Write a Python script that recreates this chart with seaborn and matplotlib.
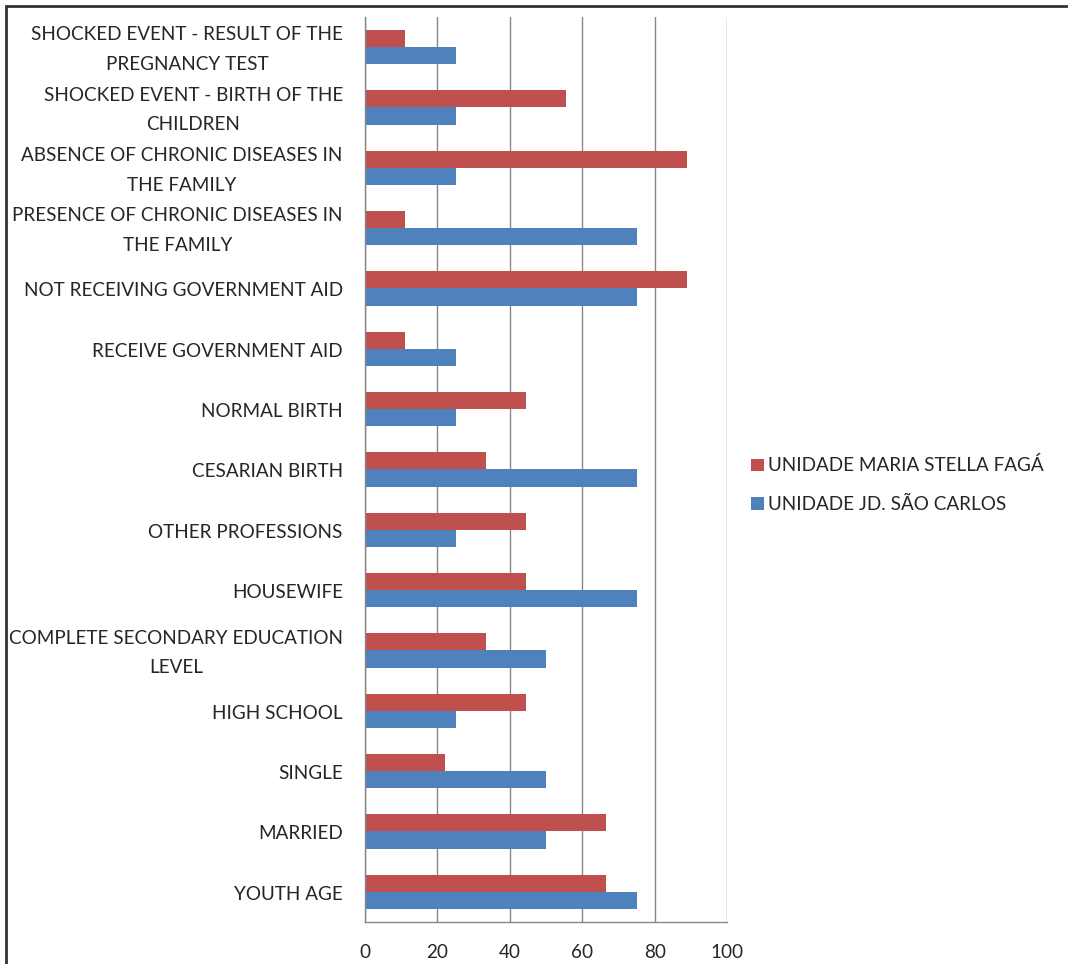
import matplotlib as mpl
import matplotlib.pyplot as plt
import matplotlib.transforms as mtransforms
from matplotlib.patches import Rectangle
import seaborn as sns
import pandas as pd
import numpy as np

categories = [
    "SHOCKED EVENT - RESULT OF THE\nPREGNANCY TEST",
    "SHOCKED EVENT - BIRTH OF THE\nCHILDREN",
    "ABSENCE OF CHRONIC DISEASES IN\nTHE FAMILY",
    "PRESENCE OF CHRONIC DISEASES IN\nTHE FAMILY",
    "NOT RECEIVING GOVERNMENT AID",
    "RECEIVE GOVERNMENT AID",
    "NORMAL BIRTH",
    "CESARIAN BIRTH",
    "OTHER PROFESSIONS",
    "HOUSEWIFE",
    "COMPLETE SECONDARY EDUCATION\nLEVEL",
    "HIGH SCHOOL",
    "SINGLE",
    "MARRIED",
    "YOUTH AGE",
]
maria_stella = [11.1, 55.6, 88.9, 11.1, 88.9, 11.1, 44.4, 33.3, 44.4, 44.4, 33.3, 44.4, 22.2, 66.7, 66.7]
sao_carlos = [25, 25, 25, 75, 75, 25, 25, 75, 25, 75, 50, 25, 50, 50, 75]
series_names = ["UNIDADE MARIA STELLA FAGÁ", "UNIDADE JD. SÃO CARLOS"]
colors = ["#C0504D", "#4F81BD"]

df = pd.DataFrame({
    "Category": categories * 2,
    "Value": maria_stella + sao_carlos,
    "Unit": [series_names[0]] * len(categories) + [series_names[1]] * len(categories),
})

sns.set_style("white")
plt.rcParams['font.family'] = ['Lato', 'DejaVu Sans']
fs = 13.6

fig = plt.figure(figsize=(10.68, 9.64), dpi=100)
ax = fig.add_axes([0.3418, 0.0436, 0.6807 - 0.3418, 0.9824 - 0.0436])

sns.barplot(data=df, y="Category", x="Value", hue="Unit", hue_order=series_names,
            palette=colors, orient="h", width=0.565, saturation=1, ax=ax,
            order=categories, linewidth=0)

ax.set_xlim(0, 100)
ax.set_ylim(len(categories) - 0.5, -0.5)
ax.set_xticks(np.arange(0, 101, 20))
ax.xaxis.grid(True, color="#868686", linewidth=1)
ax.set_axisbelow(True)
ax.set_xlabel("")
ax.set_ylabel("")
ax.spines["top"].set_visible(False)
ax.spines["right"].set_visible(False)
for s in ["left", "bottom"]:
    ax.spines[s].set_color("#868686")
    ax.spines[s].set_linewidth(1)

ax.tick_params(axis="x", which="major", length=5, color="#868686", labelsize=fs, pad=11)
ax.tick_params(axis="y", which="major", length=0, labelsize=fs, pad=16)
ax.set_yticks(np.arange(-0.5, len(categories), 1), minor=True)
ax.tick_params(axis="y", which="minor", length=6, color="#868686", direction="out")

# labels sit a touch below the category centre in the original
shift = mtransforms.ScaledTranslation(0, -2.5 / 100, fig.dpi_scale_trans)
for lab in ax.get_yticklabels():
    lab.set_multialignment("center")
    lab.set_verticalalignment("center")
    lab.set_linespacing(1.9)
    lab.set_transform(lab.get_transform() + shift)

ax.legend(loc="center left", bbox_to_anchor=(1.02, 0.483), frameon=False,
          fontsize=fs, handlelength=0.65, handleheight=0.65,
          handletextpad=0.25, labelspacing=1.15)

fig.patches.append(Rectangle((6 / 1068, -0.1), 1.2, 1 - 6 / 964 + 0.1,
                             transform=fig.transFigure, fill=False,
                             edgecolor="#333333", linewidth=2))

plt.savefig("out.png", dpi=100)
